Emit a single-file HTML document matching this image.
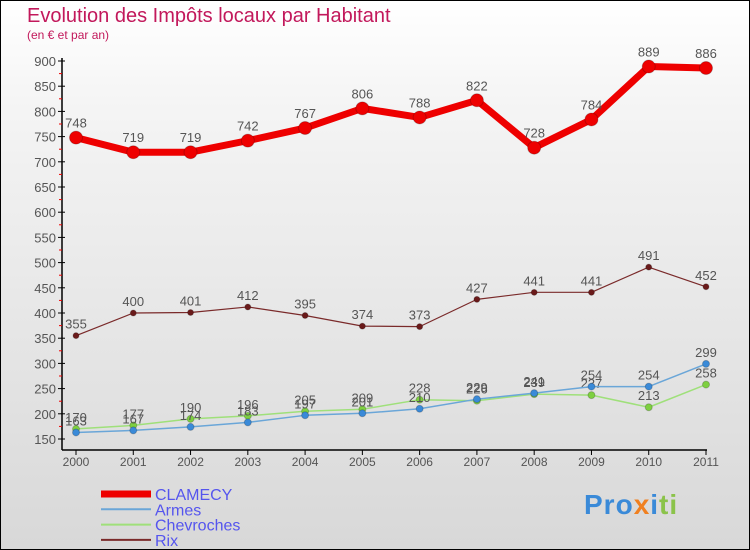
<!DOCTYPE html>
<html><head><meta charset="utf-8"><style>
body{margin:0;background:#fff}
#wrap{position:relative;width:748px;height:548px;border:1px solid #000;background:linear-gradient(#fff 0%,#f4f4f4 20%,#d8d8d8 100%);overflow:hidden;font-family:"Liberation Sans",sans-serif}
.t{position:absolute;color:#c2185b}
</style></head><body>
<div id="wrap">
<div class="t" style="left:26px;top:4px;font-size:20px">Evolution des Impôts locaux par Habitant</div>
<div class="t" style="left:26px;top:27px;font-size:12px">(en € et par an)</div>
<svg id="svg" width="750" height="550" style="position:absolute;left:0;top:0"></svg>
<div style="position:absolute;left:583px;top:488px;font-size:28px;font-weight:bold;letter-spacing:1px"><span style="color:#3a8ad8">Pro</span><span style="color:#f08020">x</span><span style="color:#3a8ad8">i</span><span style="color:#8bc34a">ti</span></div>
</div>
<script>
const years=[2000,2001,2002,2003,2004,2005,2006,2007,2008,2009,2010,2011];
const clamecy=[748,719,719,742,767,806,788,822,728,784,889,886];
const armes=[163,167,174,183,197,201,210,229,241,254,254,299];
const chevroches=[170,177,190,196,205,209,228,226,239,237,213,258];
const rix=[355,400,401,412,395,374,373,427,441,441,491,452];
const yTicks=[150,200,250,300,350,400,450,500,550,600,650,700,750,800,850,900];
const series=[
 {name:'CLAMECY',vals:clamecy,color:'#e00',w:7,r:6.5,fill:'#e00'},
 {name:'Armes',vals:armes,color:'#6aa6d8',w:1.5,r:3.5,fill:'#3a8ad8'},
 {name:'Chevroches',vals:chevroches,color:'#9fe07a',w:1.5,r:3.5,fill:'#7ed040'},
 {name:'Rix',vals:rix,color:'#7a2a2a',w:1.2,r:3,fill:'#6a1a1a'}
];
const NS='http://www.w3.org/2000/svg';
const svg=document.getElementById('svg');
const X=i=>75+i*(630/11);
const Y=v=>438-(v-150)*(378/750);
function el(t,a,p){const e=document.createElementNS(NS,t);for(const k in a)e.setAttribute(k,a[k]);(p||svg).appendChild(e);return e;}
const ax=el('line',{x1:61,y1:57,x2:61,y2:449,stroke:'#000','stroke-width':1.5});


const bx=el('line',{x1:61,y1:449,x2:706,y2:449,stroke:'#000','stroke-width':1.5});


yTicks.forEach(v=>{
 el('line',{x1:57,y1:Y(v),x2:64,y2:Y(v),stroke:'#000'});
 if(v<900)el('line',{x1:58,y1:Y(v+25),x2:61,y2:Y(v+25),stroke:'#e00'});
 const t=el('text',{x:55,y:Y(v)+5,'text-anchor':'end','font-size':13,fill:'#555'});
 t.textContent=v;
 
 
});
years.forEach((y,i)=>{
 el('line',{x1:X(i),y1:449,x2:X(i),y2:454,stroke:'#000'});
 const t=el('text',{x:X(i),y:465,'text-anchor':'middle','font-size':12,fill:'#555'});
 t.textContent=y;
 
 
});
series.slice().reverse().forEach(s=>{
 const g=el('g',{});
 
 
 el('polyline',{points:s.vals.map((v,i)=>X(i)+','+Y(v)).join(' '),fill:'none',stroke:s.color,'stroke-width':s.w,'stroke-linejoin':'round'},g);
 s.vals.forEach((v,i)=>{
  const c=el('circle',{cx:X(i),cy:Y(v),r:s.r,fill:s.fill,stroke:'rgba(0,0,0,0.2)'},g);
  
  
  const t=el('text',{x:X(i),y:Y(v)-(s.w>5?10:7),'text-anchor':'middle','font-size':13,fill:'#555'},g);
  t.textContent=v;
  
  
 });
});
series.forEach((s,i)=>{
 const y=493+i*15.3;
 const g=el('g',{});
 
 
 el('line',{x1:100,y1:y,x2:150,y2:y,stroke:s.color,'stroke-width':s.w>5?7:2},g);
 const t=el('text',{x:154,y:y+6,'font-size':16,fill:'#5555ee'},g);
 t.textContent=s.name;
});
</script>
</body></html>
